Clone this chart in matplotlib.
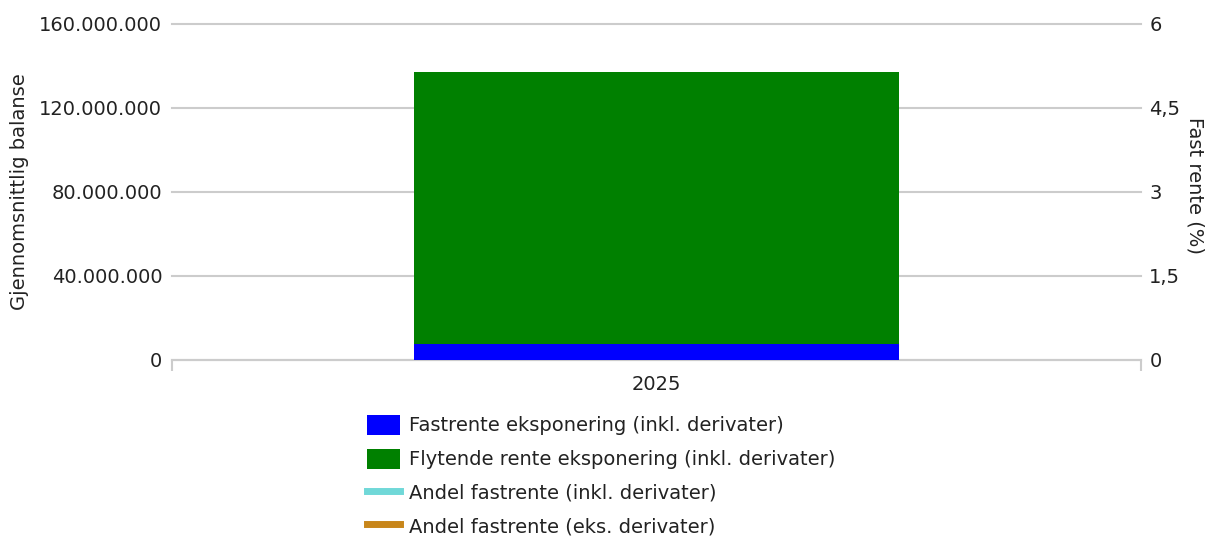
import matplotlib
matplotlib.use("Agg")
import matplotlib.pyplot as plt
import numpy as np
from matplotlib.patches import Patch
from matplotlib.lines import Line2D

categories = ["2025"]
fastrente = [7.5e6]
flytende = [129.7e6]
andel_inkl = [np.nan]
andel_eks = [np.nan]
left_ticks = [0, 40e6, 80e6, 120e6, 160e6]
left_labels = ["0", "40.000.000", "80.000.000", "120.000.000", "160.000.000"]
right_ticks = [0, 1.5, 3, 4.5, 6]
right_labels = ["0", "1,5", "3", "4,5", "6"]

plt.rcParams['font.family'] = ['DejaVu Sans']
fs = 14
grid_c = "#cccccc"
text_c = "#222222"

fig = plt.figure(figsize=(12.16, 5.36), dpi=100)
ax = fig.add_axes([0.1414, 0.3284, 0.7969, 0.6269])
x = np.arange(len(categories))
ax.bar(x, fastrente, width=0.5, color="#0000ff", zorder=3)
ax.bar(x, flytende, width=0.5, bottom=fastrente, color="#008000", zorder=3)
ax.set_xlim(-0.5, 0.5)
ax.set_ylim(0, 160e6)
ax.set_yticks(left_ticks)
ax.set_yticklabels(left_labels)
ax.set_xticks(x)
ax.set_xticklabels(categories)
ax.set_xticks([-0.5, 0.5], minor=True)
ax.tick_params(axis='x', which='major', length=0, pad=11, labelsize=fs, labelcolor=text_c)
ax.tick_params(axis='x', which='minor', length=8, width=1.5, color=grid_c)
ax.tick_params(axis='y', length=0, pad=7, labelsize=fs, labelcolor=text_c)
ax.grid(axis='y', color=grid_c, linewidth=1.5, zorder=0)
for gl in ax.get_ygridlines():
    gl.set_clip_on(False)
for s in ['top', 'left', 'right']:
    ax.spines[s].set_visible(False)
ax.spines['bottom'].set_color(grid_c)
ax.spines['bottom'].set_linewidth(1.5)
ax.set_ylabel("Gjennomsnittlig balanse", fontsize=fs, color=text_c, labelpad=7)

ax2 = ax.twinx()
ax2.plot(x, andel_inkl, color="#70d8d8", linewidth=5)
ax2.plot(x, andel_eks, color="#c8861a", linewidth=5)
ax2.set_ylim(0, 6)
ax2.set_yticks(right_ticks)
ax2.set_yticklabels(right_labels)
ax2.tick_params(axis='y', length=0, pad=6, labelsize=fs, labelcolor=text_c)
for s in ['top', 'left', 'right', 'bottom']:
    ax2.spines[s].set_visible(False)
ax2.set_ylabel("Fast rente (%)", fontsize=fs, color=text_c, rotation=-90)
ax2.yaxis.set_label_coords(1.066, 0.52)

handles = [
    Patch(facecolor="#0000ff", edgecolor="none"),
    Patch(facecolor="#008000", edgecolor="none"),
    Line2D([0], [0], color="#70d8d8", linewidth=5, solid_capstyle='projecting'),
    Line2D([0], [0], color="#c8861a", linewidth=5, solid_capstyle='projecting'),
]
labels = ["Fastrente eksponering (inkl. derivater)",
          "Flytende rente eksponering (inkl. derivater)",
          "Andel fastrente (inkl. derivater)",
          "Andel fastrente (eks. derivater)"]
fig.legend(handles, labels, loc="upper left", bbox_to_anchor=(0.3018, 0.226),
           frameon=False, fontsize=fs, handlelength=1.7, handleheight=1.2,
           handletextpad=0.45, labelspacing=0.68, borderaxespad=0, borderpad=0,
           labelcolor=text_c)

fig.savefig("out.png", dpi=100)
